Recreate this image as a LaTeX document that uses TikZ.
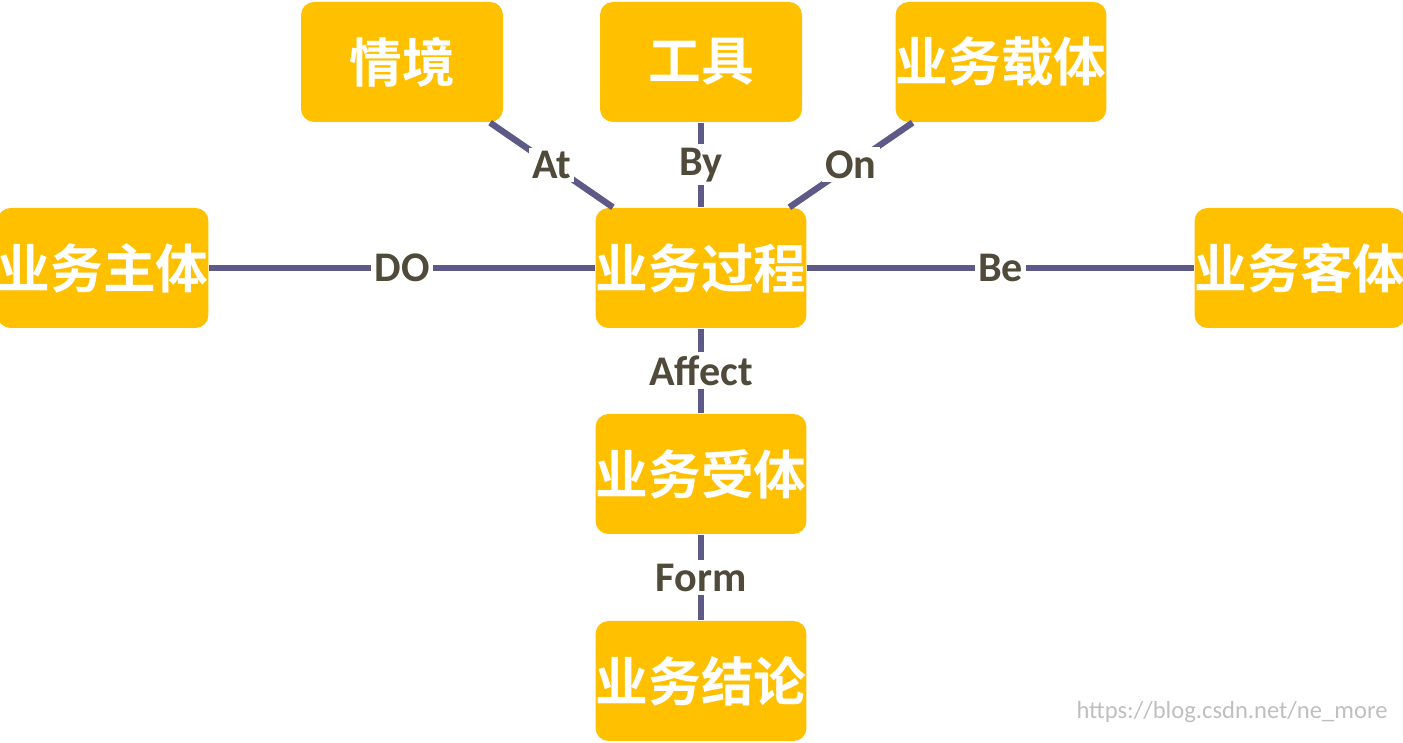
\documentclass[tikz,border=0pt]{standalone}
\usepackage{fontspec}
\setmainfont{Carlito}
\newfontfamily\cjk{Noto Sans CJK SC Bold}
\usetikzlibrary{positioning}
\definecolor{boxfill}{HTML}{FFC000}
\definecolor{linkcol}{HTML}{5E5A87}
\definecolor{labcol}{HTML}{4F4A3A}
\tikzset{
    bizbox/.style = {fill=boxfill, rounded corners=0.13cm, minimum width=2.02cm,
        minimum height=1.2cm, inner sep=0pt, text=white, font=\cjk\fontsize{15}{15}\selectfont},
    link/.style = {draw=linkcol, line width=1.8pt},
    verb/.style = {fill=white, inner sep=1pt, text=labcol, font=\bfseries\fontsize{12}{12}\selectfont},
}
\begin{document}
\begin{tikzpicture}
        \useasboundingbox (0,0) rectangle (14.03,7.43);
        \node [bizbox] (proc) at (7.01,4.75) {业务过程};
        \node [bizbox] (scene) at (4.02,6.81) {情境};
        \node [bizbox] (tool) at (7.01,6.81) {工具};
        \node [bizbox] (carrier) at (10.01,6.81) {业务载体};
        \node [bizbox] (subj) at (1.03,4.75) {业务主体};
        \node [bizbox] (obj) at (13.00,4.75) {业务客体};
        \node [bizbox] (recv) at (7.01,2.69) {业务受体};
        \node [bizbox] (concl) at (7.01,0.62) {业务结论};
        % connectors
        \draw [link] (scene) -- node [verb] {At} (proc);
        \draw [link] (tool) -- node [verb] {By} (proc);
        \draw [link] (carrier) -- node [verb] {On} (proc);
        \draw [link] (subj) -- node [verb, pos=0.5] {DO} (proc);
        \draw [link] (proc) -- node [verb] {Be} (obj);
        \draw [link] (proc) -- node [verb] {Affect} (recv);
        \draw [link] (recv) -- node [verb] {Form} (concl);
        \node [text=black!25, font=\fontsize{7}{7}\selectfont, anchor=south east] (mark) at (14.0,0.08) {https://blog.csdn.net/ne\_more};
\end{tikzpicture}
\end{document}
